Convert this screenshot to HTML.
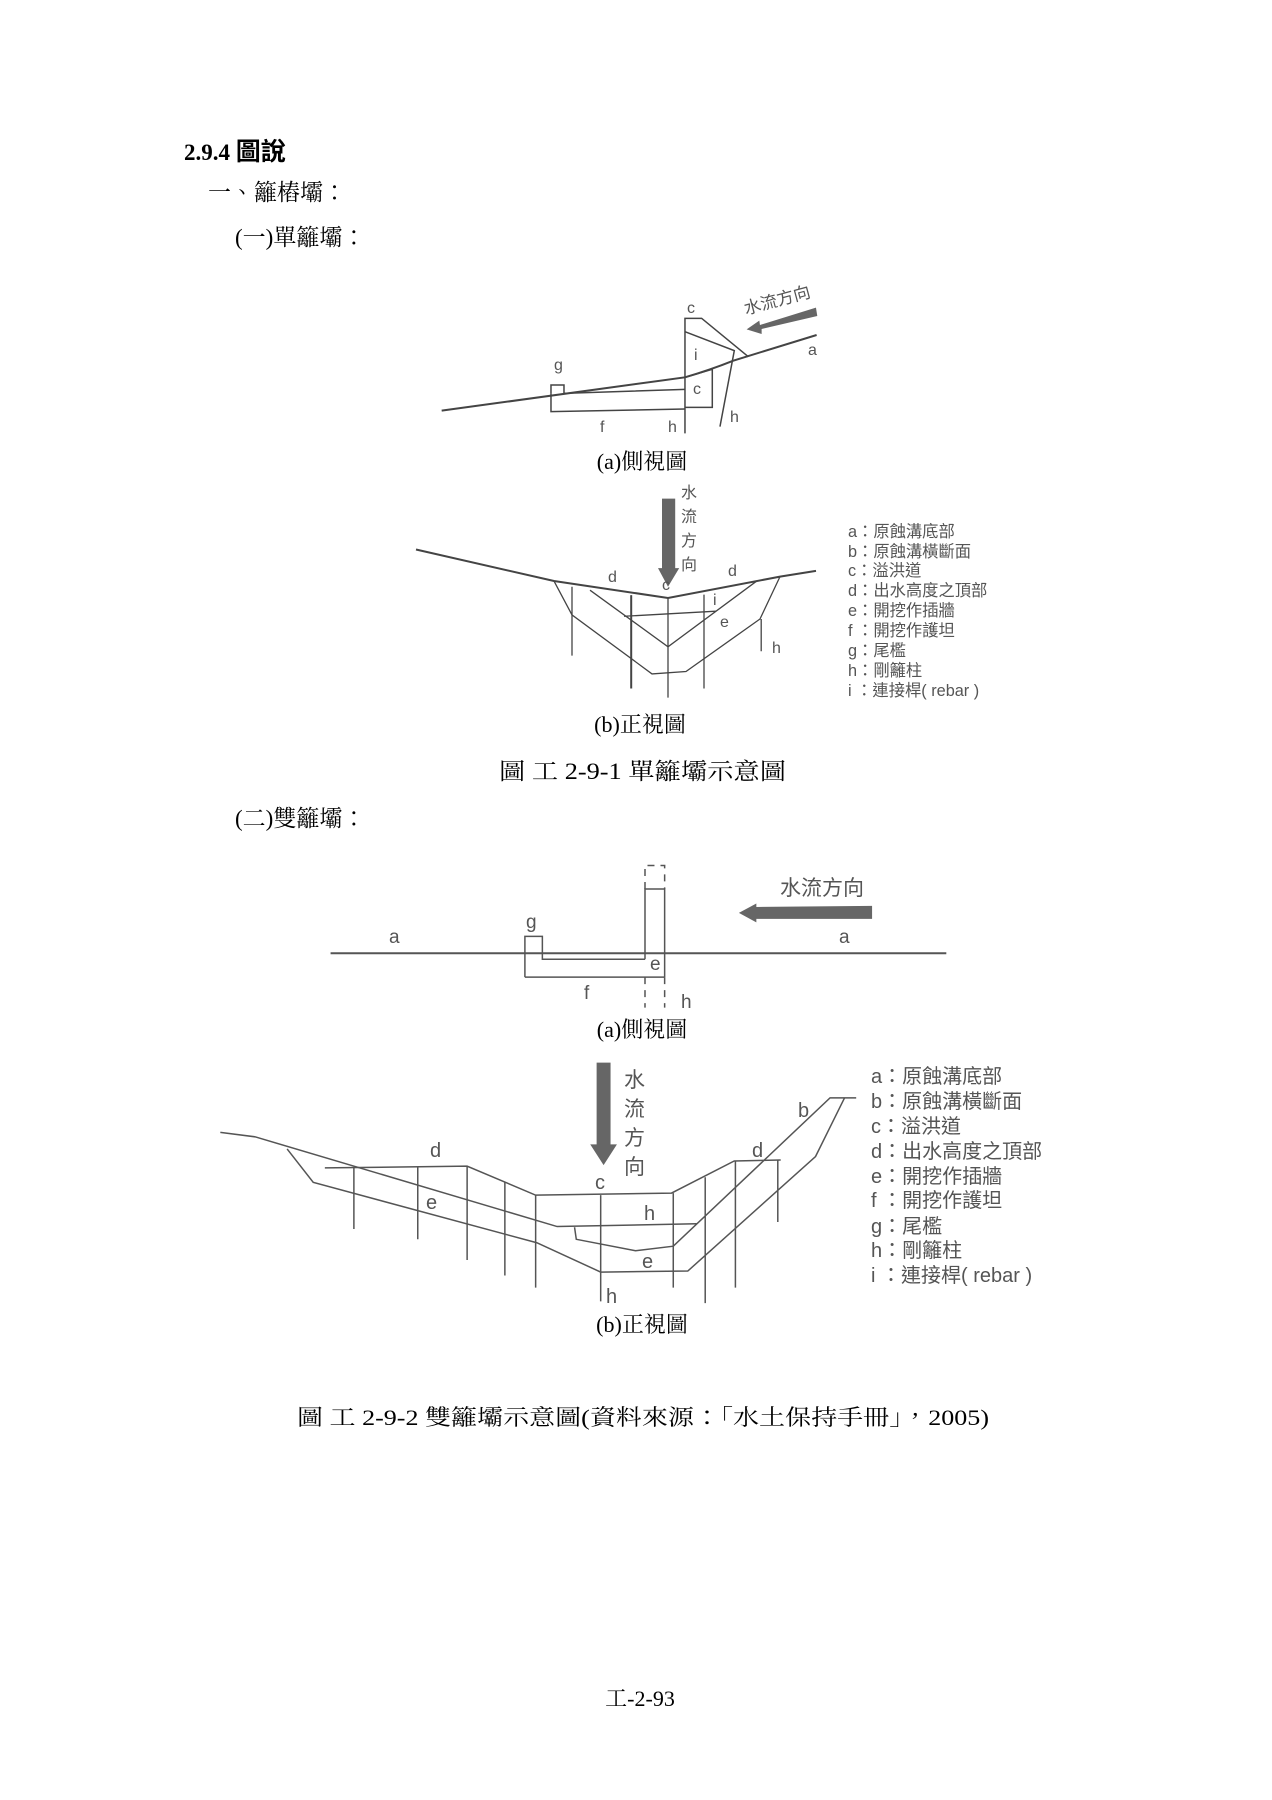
<!DOCTYPE html>
<html><head><meta charset="utf-8"><style>
html,body{margin:0;padding:0;background:#fff;}
svg{display:block;}
.s{font-family:"Liberation Serif","Noto Serif CJK TC","Noto Serif CJK SC",serif;fill:#000;}
.l{font-family:"Liberation Sans","Noto Sans CJK TC",sans-serif;fill:#555;}
</style></head><body>
<svg width="1272" height="1800" viewBox="0 0 1272 1800" xmlns="http://www.w3.org/2000/svg">
<!-- headings -->
<text x="184" y="160" class="s" font-size="23" font-weight="bold">2.9.4  <tspan font-family="Noto Sans CJK TC,sans-serif" font-size="25">圖說</tspan></text>
<text x="208" y="200" class="s" font-size="23">一、籬樁壩：</text>
<text x="235" y="245" class="s" font-size="23">(一)單籬壩：</text>

<!-- Fig 1a -->
<g transform="translate(400,260) scale(0.3333)" fill="none" stroke="#444" stroke-width="1.5">
<path vector-effect="non-scaling-stroke" stroke-width="2" d="M125,452 L855,352 Q930,330 1000,302 L1250,225"/>
<path vector-effect="non-scaling-stroke" d="M855,520 L855,175 L905,175 L1045,290"/>
<path vector-effect="non-scaling-stroke" d="M855,215 L1003,272 L960,500"/>
<path vector-effect="non-scaling-stroke" d="M855,352 L937,328 L937,442 L855,442"/>
<path vector-effect="non-scaling-stroke" d="M453,400 L453,375 L492,375 L492,400 L855,388"/>
<path vector-effect="non-scaling-stroke" d="M453,400 L453,455 L855,447"/>
<polygon points="1248,143 1252,168 1085,207 1085,222 1040,208 1078,182 1080,195" fill="#666" stroke="none"/>
</g>
<g class="l" font-size="16">
<text x="687" y="313">c</text><text x="694" y="360">i</text><text x="554" y="370">g</text>
<text x="693" y="394">c</text><text x="808" y="355">a</text><text x="600" y="432">f</text>
<text x="668" y="432">h</text><text x="730" y="422">h</text>
<text x="743" y="306" font-size="17" transform="rotate(-15 777 300)">水流方向</text>
</g>
<text x="642" y="469" class="s" font-size="22" text-anchor="middle">(a)側視圖</text>

<!-- Fig 1b -->
<g transform="translate(400,480) scale(0.4,0.339)" fill="none" stroke="#444">
<path vector-effect="non-scaling-stroke" stroke-width="2" d="M40,205 L385,298 L670,348 L950,285 L1040,268"/>
<path vector-effect="non-scaling-stroke" stroke-width="1.3" d="M385,298 L430,398 L630,572 L715,565 L900,410 L950,285"/>
<path vector-effect="non-scaling-stroke" stroke-width="1.3" d="M475,325 L670,492 L893,297"/>
<path vector-effect="non-scaling-stroke" stroke-width="1.3" d="M560,402 L790,387"/>
<path vector-effect="non-scaling-stroke" stroke-width="1.3" d="M430,315 L430,518 M578,340 L578,615 M670,348 L670,642 M760,338 L760,615 M903,410 L903,505"/>
<path vector-effect="non-scaling-stroke" stroke-width="2" d="M578,340 L578,615"/>
<polygon points="655,55 688,55 688,260 698,260 670,315 645,260 655,260" fill="#666" stroke="none"/>
</g>
<g class="l" font-size="16">
<text x="681" y="498">水</text><text x="681" y="522">流</text><text x="681" y="546">方</text><text x="681" y="570">向</text>
<text x="608" y="582">d</text><text x="728" y="576">d</text><text x="662" y="590">c</text>
<text x="713" y="605">i</text><text x="720" y="627">e</text><text x="772" y="653">h</text>
</g>
<g class="l" font-size="16.3">
<text x="848" y="537">a：原蝕溝底部</text>
<text x="848" y="557">b：原蝕溝橫斷面</text>
<text x="848" y="576">c：溢洪道</text>
<text x="848" y="596">d：出水高度之頂部</text>
<text x="848" y="616">e：開挖作插牆</text>
<text x="848" y="636">f ：開挖作護坦</text>
<text x="848" y="656">g：尾檻</text>
<text x="848" y="676">h：剛籬柱</text>
<text x="848" y="696">i ：連接桿( rebar )</text>
</g>
<text x="640" y="732" class="s" font-size="22" text-anchor="middle">(b)正視圖</text>
<text x="499" y="779" class="s" font-size="23" textLength="287" lengthAdjust="spacingAndGlyphs">圖  工 2-9-1 單籬壩示意圖</text>
<text x="235" y="826" class="s" font-size="23">(二)雙籬壩：</text>

<!-- Fig 2a -->
<g transform="translate(0,-5)">
<g transform="translate(300,860) scale(0.4367,0.351)" fill="none" stroke="#555">
<path vector-effect="non-scaling-stroke" stroke-width="2" d="M70,280 L1480,280"/>
<path vector-effect="non-scaling-stroke" stroke-width="1.5" d="M515,348 L515,232 L555,232 L555,297 L790,297 M515,348 L835,348 M790,297 L790,97 L835,97 L835,348"/>
<path vector-effect="non-scaling-stroke" stroke-width="1.5" stroke-dasharray="7,6" d="M790,97 L790,30 L835,30 L835,97 M790,348 L790,435 M835,348 L835,435"/>
<polygon points="1310,145 1310,182 1045,182 1045,192 1005,165 1045,138 1045,148" fill="#666" stroke="none"/>
</g>
<g class="l" font-size="19">
<text x="822" y="900" font-size="21" text-anchor="middle">水流方向</text>
<text x="389" y="948">a</text><text x="839" y="948">a</text><text x="526" y="933">g</text>
<text x="650" y="975">e</text><text x="584" y="1004">f</text><text x="681" y="1013">h</text>
</g>
</g>
<text x="642" y="1037" class="s" font-size="22" text-anchor="middle">(a)側視圖</text>

<!-- Fig 2b -->
<g transform="translate(0,-7)">
<g transform="translate(200,1060) scale(0.5807,0.345)" fill="none" stroke="#555" stroke-width="1.5">
<path vector-effect="non-scaling-stroke" d="M35,230 L95,243 L615,503 L855,495"/>
<path vector-effect="non-scaling-stroke" d="M645,505 L648,540 L750,573 L815,560 L1085,130 L1130,130"/>
<path vector-effect="non-scaling-stroke" d="M150,278 L195,375 L580,550 L690,635 L840,632 L1060,300 L1110,130"/>
<path vector-effect="non-scaling-stroke" d="M215,333 L460,328 L578,412 L812,406 L920,313 L1000,310"/>
<path vector-effect="non-scaling-stroke" d="M265,330 L265,510 M375,330 L375,540 M460,328 L460,600 M525,375 L525,645 M578,412 L578,680 M690,412 L690,720 M815,406 L815,680 M870,360 L870,725 M922,313 L922,680 M995,310 L995,490"/>
<polygon points="683,28 707,28 707,265 718,265 695,325 672,265 683,265" fill="#666" stroke="none"/>
</g>
<g class="l" font-size="20">
<text x="624" y="1094" font-size="21">水</text><text x="624" y="1123" font-size="21">流</text>
<text x="624" y="1152" font-size="21">方</text><text x="624" y="1181" font-size="21">向</text>
<text x="430" y="1164">d</text><text x="752" y="1164">d</text><text x="798" y="1124">b</text>
<text x="595" y="1196">c</text><text x="426" y="1216">e</text><text x="644" y="1227">h</text>
<text x="642" y="1275">e</text><text x="606" y="1310">h</text>
</g>
<g class="l" font-size="20">
<text x="871" y="1090">a：原蝕溝底部</text>
<text x="871" y="1115">b：原蝕溝橫斷面</text>
<text x="871" y="1140">c：溢洪道</text>
<text x="871" y="1165">d：出水高度之頂部</text>
<text x="871" y="1190">e：開挖作插牆</text>
<text x="871" y="1214">f ：開挖作護坦</text>
<text x="871" y="1240">g：尾檻</text>
<text x="871" y="1264">h：剛籬柱</text>
<text x="871" y="1289">i ：連接桿( rebar )</text>
</g>
</g>
<text x="642" y="1332" class="s" font-size="22" text-anchor="middle">(b)正視圖</text>
<text x="297" y="1425" class="s" font-size="22" textLength="692" lengthAdjust="spacingAndGlyphs">圖  工 2-9-2 雙籬壩示意圖(資料來源：「水土保持手冊」，2005)</text>
<text x="640" y="1706" class="s" font-size="22" text-anchor="middle">工-2-93</text>
</svg>
</body></html>
